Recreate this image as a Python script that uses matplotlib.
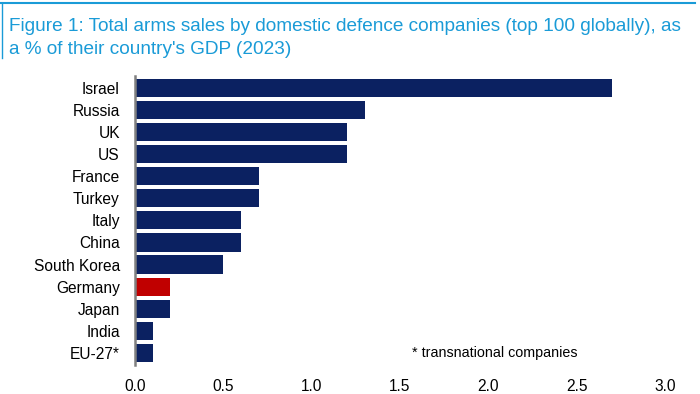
import matplotlib
matplotlib.use("Agg")
import matplotlib.pyplot as plt
from matplotlib.lines import Line2D

plt.rcParams['font.family'] = ['Liberation Sans', 'DejaVu Sans']

# data
countries = ["Israel", "Russia", "UK", "US", "France", "Turkey", "Italy",
             "China", "South Korea", "Germany", "Japan", "India", "EU-27*"]
values = [2.7, 1.3, 1.2, 1.2, 0.7, 0.7, 0.6, 0.6, 0.5, 0.2, 0.2, 0.1, 0.1]
xticks = [0.0, 0.5, 1.0, 1.5, 2.0, 2.5, 3.0]

navy = "#0b2161"
red = "#c00000"
blue = "#1a9bd7"
colors = [red if c == "Germany" else navy for c in countries]

fig = plt.figure(figsize=(7, 3.94), dpi=100)
ax = fig.add_axes([0.193, 0.074, 0.757, 0.733])

ax.barh(range(len(countries)), values, height=0.82, color=colors)
ax.set_ylim(12.55, -0.55)
ax.set_xlim(0, 3.0)
ax.set_yticks(range(len(countries)))
ax.set_yticklabels(countries, fontsize=11.2)
ax.set_xticks(xticks)
ax.set_xticklabels([f"{t:.1f}" for t in xticks], fontsize=11.2)
ax.tick_params(axis='y', length=0, pad=11)
ax.tick_params(axis='x', length=0, pad=10)

for s in ["top", "right", "bottom"]:
    ax.spines[s].set_visible(False)
ax.spines["left"].set_color("#808080")
ax.spines["left"].set_linewidth(1.8)

ax.text(1.565, 12.0, "* transnational companies", fontsize=10.3, va="center")

# title block with rules
fig.add_artist(Line2D([0.0, 0.993], [0.992, 0.992], color=blue, lw=1.5))
fig.add_artist(Line2D([0.003, 0.003], [0.992, 0.853], color=blue, lw=1.0))
fig.text(0.013, 0.932, "Figure 1: Total arms sales by domestic defence companies (top 100 globally), as",
         color=blue, fontsize=13.7, va="center")
fig.text(0.013, 0.874, "a % of their country's GDP (2023)",
         color=blue, fontsize=13.7, va="center")

fig.savefig("out.png", dpi=100)
